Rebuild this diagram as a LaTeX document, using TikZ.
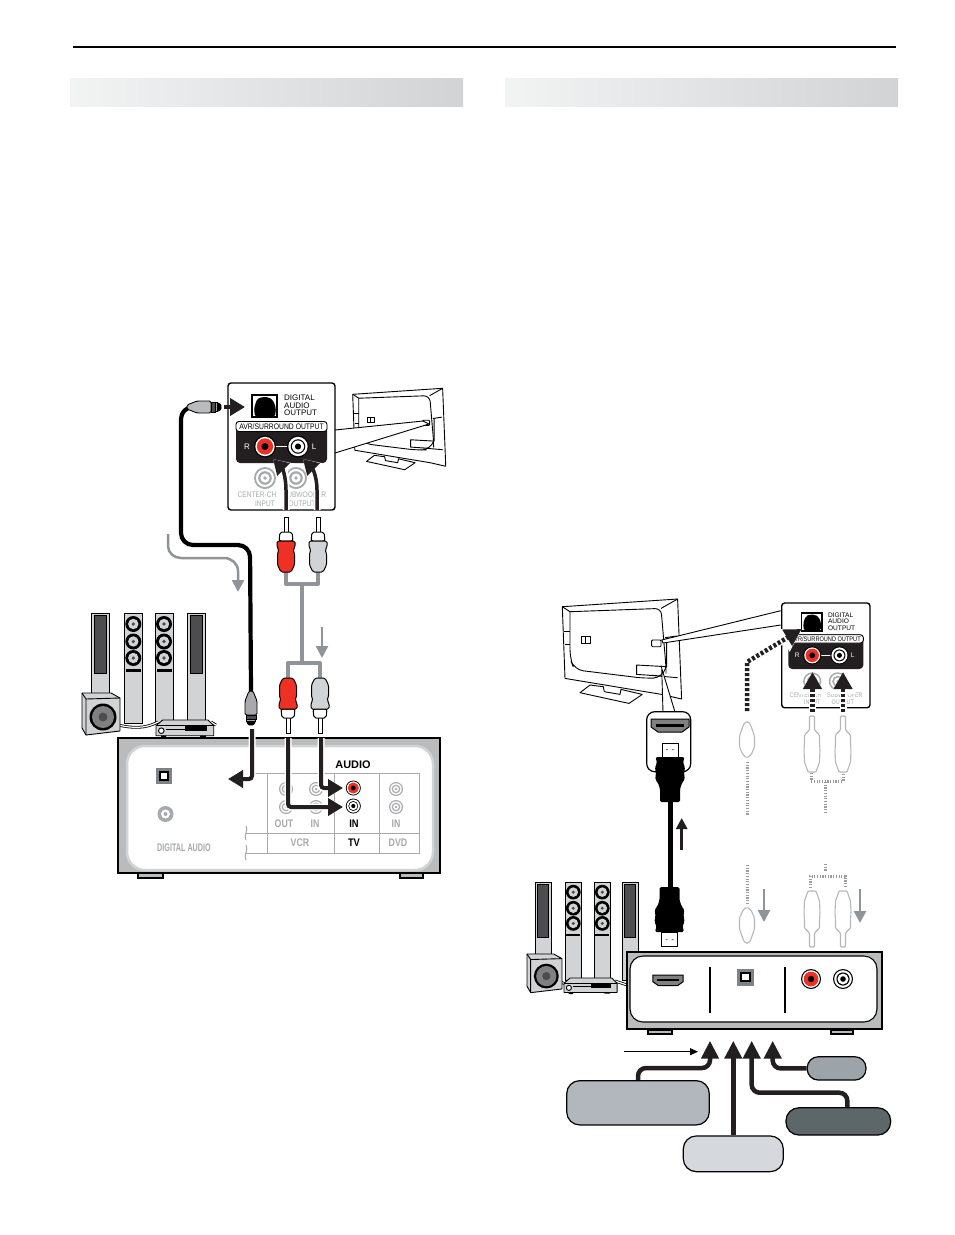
\documentclass[tikz,border=0pt]{standalone}
\usepackage{fontspec}
\setmainfont{Liberation Sans}
\usetikzlibrary{arrows.meta}
\definecolor{barleft}{HTML}{F2F3F3}
\definecolor{barright}{HTML}{D2D3D5}
\definecolor{cabinet}{HTML}{D1D3D4}
\definecolor{darkgrey}{HTML}{4D4D4F}
\definecolor{boxgrey}{HTML}{B9BBBD}
\definecolor{cablegrey}{HTML}{8F9499}
\definecolor{labelgrey}{HTML}{A7A9AC}
\definecolor{plugred}{HTML}{EE3124}
\definecolor{panelblack}{HTML}{231F20}
\definecolor{ghostgrey}{HTML}{B5B7B9}
\definecolor{pillblue}{HTML}{B2B6BD}
\definecolor{pilllight}{HTML}{D5D8DC}
\definecolor{pilldark}{HTML}{5D6769}
\definecolor{pillgrey}{HTML}{9DA4A9}
\definecolor{squaregrey}{HTML}{7C8488}
\tikzset{minimum size=0pt,inner sep=0pt,
  headbar/.style={left color=barleft,right color=barright,draw=none},
  thickarrow/.style={line width=3.5pt,panelblack,-{Triangle[length=15pt,width=17pt]}},
  haloarrow/.style={thickarrow,preaction={draw=white,line width=7pt,-{Triangle[length=19pt,width=23pt]}}},
  dotarrow/.style={line width=4.5pt,panelblack,dash pattern=on 3pt off 2pt,-{Triangle[length=17pt,width=18pt]},
    preaction={draw=white,solid,line width=7pt,-{Triangle[length=22pt,width=25pt]}}},
  greyarrow/.style={line width=2.5pt,cablegrey,-{Triangle[length=12pt,width=12pt]}},
  greycable/.style={line width=4pt,cablegrey,line join=round},
  blackcable/.style={line width=4.2pt,black,rounded corners=12pt},
  tickcable/.style={line width=3pt,ghostgrey!85!black,dash pattern=on 1.2pt off 1.5pt},
  wire/.style={line width=.8pt,double=white,double distance=1.2pt},
  pill/.style={draw=black,line width=1.2pt,rounded corners=13pt},
  pillarrow/.style={line width=4.5pt,panelblack,rounded corners=8pt,-{Triangle[length=18pt,width=17pt]}},
  graytext/.style={text=labelgrey,font=\fontsize{11}{11}\bfseries\selectfont,xscale=.8},
  blacktext/.style={text=black,font=\fontsize{11}{11}\bfseries\selectfont,xscale=.85},
  paneltext/.style={transform shape,font=\fontsize{8}{7.6}\selectfont,align=center}}
\newcommand{\redjack}[3]{\fill[black] (#1,#2) circle[radius=#3];
  \fill[white] (#1,#2) circle[radius=.88*#3];
  \fill[plugred] (#1,#2) circle[radius=.74*#3];
  \fill[black] (#1,#2) circle[radius=.32*#3];}
\newcommand{\whitejack}[3]{\fill[black] (#1,#2) circle[radius=#3];
  \fill[white] (#1,#2) circle[radius=.88*#3];
  \fill[black] (#1,#2) circle[radius=.66*#3];
  \fill[white] (#1,#2) circle[radius=.55*#3];
  \fill[black] (#1,#2) circle[radius=.28*#3];}
\newcommand{\greyjack}[3]{\fill[labelgrey] (#1,#2) circle[radius=#3];
  \fill[white] (#1,#2) circle[radius=.82*#3];
  \fill[labelgrey] (#1,#2) circle[radius=.62*#3];
  \fill[white] (#1,#2) circle[radius=.42*#3];
  \fill[labelgrey] (#1,#2) circle[radius=.18*#3];}
\newcommand{\digitalsquare}[3]{\fill[squaregrey] (#1-#3,#2-#3) rectangle (#1+#3,#2+#3);
  \fill[black] (#1-.62*#3,#2-.62*#3) rectangle (#1+.62*#3,#2+.62*#3);
  \fill[white] (#1-.36*#3,#2-.36*#3) rectangle (#1+.36*#3,#2+.36*#3);}
\newcommand{\rcaplug}[4]{\begin{scope}[shift={(#1,#2)},yscale=#3,draw=black,line width=1pt]
  \filldraw[fill=white] (-2,0) rectangle (2,16);
  \filldraw[fill=white,rounded corners=2] (-6,15) -- (6,15) -- (7,24) -- (-7,24) -- cycle;
  \filldraw[fill=#4,rounded corners=1.5] (-9,24) -- (9,24) -- (9,30) -- (7,33) -- (8.5,36) -- (8.5,48) -- (5,55) -- (-5,55) -- (-8.5,48) -- (-8.5,36) -- (-7,33) -- (-9,30) -- cycle;
  \end{scope}}
\newcommand{\ghostplug}[3]{\begin{scope}[shift={(#1,#2)},yscale=#3,draw=ghostgrey,line width=1.1pt]
  \filldraw[fill=white,rounded corners=1] (-2.5,0) -- (2.5,0) -- (2.5,14) -- (7.5,19) -- (7.5,27) -- (8,34) -- (7.5,46) -- (4,56) -- (-4,56) -- (-7.5,46) -- (-8,34) -- (-7.5,27) -- (-7.5,19) -- (-2.5,14) -- cycle;
  \end{scope}}
\newcommand{\ghostcoax}[3]{\begin{scope}[shift={(#1,#2)},yscale=#3,draw=ghostgrey,line width=1.1pt]
  \filldraw[fill=white,rounded corners=1.5] (-2,0) -- (2,0) -- (4,4) -- (7.5,14) -- (7.5,25) -- (4,33) -- (0,36) -- (-4,33) -- (-7.5,25) -- (-7.5,14) -- (-4,4) -- cycle;
  \end{scope}}
\newcommand{\coaxplug}[4]{\begin{scope}[shift={(#1,#2)},rotate=#3,line width=.9pt]
  \filldraw[fill=#4,rounded corners=1.5] (-2,0) -- (2,0) -- (6,10) -- (6,24) -- (-6,24) -- (-6,10) -- cycle;
  \filldraw[fill=darkgrey] (-5,24) rectangle (5,28);
  \filldraw[fill=white] (-4.5,28) rectangle (4.5,30);
  \filldraw[fill=black,rounded corners=1] (-4.5,30) -- (4.5,30) -- (2.5,34) -- (-2.5,34) -- cycle;
  \end{scope}}
\newcommand{\hdmiplug}[3]{\begin{scope}[shift={(#1,#2)},yscale=#3]
  \filldraw[draw=black,fill=white,line width=1pt] (-8,0) rectangle (8,14);
  \fill[gray] (-4,6) rectangle (-2,7) (2,6) rectangle (4,7);
  \fill[black,rounded corners=1.5] (-14.5,14) -- (14.5,14) -- (13,20) -- (15,24) -- (14,32) -- (15,36) -- (12,40) -- (10,46) -- (10,59) -- (-10,59) -- (-10,46) -- (-12,40) -- (-15,36) -- (-14,32) -- (-15,24) -- (-13,20) -- cycle;
  \end{scope}}
\newcommand{\hdmiport}[4]{\begin{scope}[shift={(#1,#2)},scale=#3]
  \filldraw[draw=black,fill=#4,line width=1pt] (-19,-6) -- (19,-6) -- (19,2) -- (12,7) -- (-12,7) -- (-19,2) -- cycle;
  \fill[black] (-14,-1) rectangle (14,1.5);
  \end{scope}}
\newcommand{\panelspk}[4]{\begin{scope}[shift={(#1,#2)},scale=#3,line width=.9pt]
  \filldraw[fill=cabinet] (0,0) rectangle (18,#4);
  \filldraw[fill=darkgrey] (3,2.5) rectangle (15,60);
  \end{scope}}
\newcommand{\discspk}[4]{\begin{scope}[shift={(#1,#2)},scale=#3,line width=.9pt]
  \filldraw[fill=cabinet] (0,0) rectangle (18,#4);
  \foreach \dy in {11,28.5,45}{
    \fill[black] (9,\dy) circle[radius=8];
    \fill[cabinet] (9,\dy) circle[radius=5.2];
    \fill[darkgrey] (9,\dy) circle[radius=1.8];}
  \fill[black] (1.5,56) rectangle (16.5,59);
  \end{scope}}
\newcommand{\subwoofer}[3]{\begin{scope}[shift={(#1,#2)},scale=#3,line width=.9pt]
  \filldraw[fill=cabinet,line join=round] (0,0) -- (29,0) -- (38,5) -- (38,38) -- (4,42) -- (0,35) -- cycle;
  \draw (0,0) -- (4,6) -- (38,5) (4,6) -- (4,42);
  \fill[black] (21,24) circle[radius=13.5];
  \fill[gray] (21,24) circle[radius=11];
  \fill[darkgrey] (21,24) circle[radius=4.5];
  \end{scope}}
\newcommand{\receiver}[3]{\begin{scope}[shift={(#1,#2)},scale=#3,line width=.9pt]
  \filldraw[fill=cabinet,line join=round] (6.7,0) -- (52,0) -- (57.7,5.7) -- (57.7,15.7) -- (0,15.7) -- (0,5.7) -- cycle;
  \draw (0,5.7) -- (57.7,5.7);
  \fill[black] (29.3,6) rectangle (51,10.5);
  \draw (9.5,9.5) -- (29.3,9.5);
  \filldraw[fill=white] (5.3,10.7) circle[radius=2.8];
  \fill[black] (5,15.7) rectangle (10,17.5) (44,15.7) rectangle (50,17);
  \end{scope}}
\newcommand{\backtv}[3]{\begin{scope}[shift={(#1,#2)},scale=#3,line width=.9pt,line join=round]
  \filldraw[fill=white] (27.7,78.3) -- (17.7,86) -- (66.7,96.7) -- (80,87.7) -- (58.7,82.7) -- (57.7,87.7) -- (42,85) -- (41,80) -- cycle;
  \filldraw[fill=white] (0,0) -- (115.3,-7.7) -- (119.3,92.3) -- (99.3,87.7) -- (2.7,71.7) -- cycle;
  \draw[rounded corners=6] (7.7,5) -- (98.7,1.7) -- (103.7,60) -- (103.7,67);
  \draw[rounded corners=9] (7.7,5) -- (7.7,51.7) -- (12,63) -- (82.7,71.7) -- (100,71) -- (103.7,60);
  \draw (0,0) -- (7.7,5) (115.3,-7.7) -- (98.7,1.7);
  \draw (102.7,31) -- (114.3,29.3) (104.3,31) -- (104.3,60) -- (74.3,58.3) -- (74.3,67.7) -- (99.3,69.3) (86,68.5) -- (115.3,71);
  \draw (2,25) -- (7.7,25) (2.5,38) -- (7.7,38);
  \filldraw[fill=white,rounded corners=1] (89.3,33.3) rectangle (98.7,40);
  \draw (18.7,30) rectangle (27.7,36.7) (23.2,30) -- (23.2,36.7);
  \end{scope}}
\newcommand{\avrpanel}[4]{\begin{scope}[shift={(#2,#3)},scale=#4]
  \filldraw[draw=black,fill=white,line width=1.4pt,rounded corners=3] (0,0) rectangle (107,127);
  \filldraw[draw=black,fill=white,line width=1.3pt] (24,12) rectangle (49,34);
  \fill[black,rounded corners=2] (27,34) -- (26,25) -- (29,16) -- (34,14) -- (40,14) -- (45,17) -- (48,25) -- (47,34) -- cycle;
  \node[paneltext,anchor=west,align=left] (#1digital) at (56,22.5) {DIGITAL\\AUDIO\\OUTPUT};
  \fill[panelblack,rounded corners=4] (8,38) rectangle (99,80);
  \filldraw[draw=black,fill=white,line width=.9pt,rounded corners=3] (8,38.5) rectangle (99,48.5);
  \node[paneltext,xscale=.85] (#1header) at (53.5,43.5) {AVR/SURROUND OUTPUT};
  \draw[white,line width=.8pt] (37,63.5) -- (70,63.5);
  \redjack{37}{63.5}{11}
  \whitejack{70}{63.5}{11}
  \node[paneltext,text=white] (#1right) at (19,63.5) {R};
  \node[paneltext,text=white] (#1left) at (86,63.5) {L};
  \greyjack{37}{95}{11}
  \greyjack{68}{95}{11}
  \node[paneltext,text=labelgrey,xscale=.82] (#1center) at (29,112) {CENTER-CH};
  \node[paneltext,text=labelgrey,xscale=.82] (#1input) at (37,120.5) {INPUT};
  \node[paneltext,text=labelgrey,xscale=.82] (#1sub) at (76.5,112) {SUBWOOFER};
  \node[paneltext,text=labelgrey,xscale=.82] (#1output) at (74,120.5) {OUTPUT};
  \end{scope}}
\begin{document}
\begin{tikzpicture}[x=1pt,y=-1pt]
  \useasboundingbox (0,0) rectangle (954,1235);
  \fill[white] (0,0) rectangle (954,1235);
  \draw[black,line width=2pt] (73,47) -- (896,47);
  \fill[headbar] (70,78) rectangle (463,106);
  \fill[headbar] (505,78) rectangle (898,106);
  \backtv{352.7}{394.3}{.78}
  \filldraw[fill=white,line width=.9pt] (335,430) -- (423,421) -- (429,424) -- (335,453);
  \avrpanel{upper}{228}{383}{1}
  \draw[haloarrow] (286,510) -- (286,490) to[out=90,in=-45] (273,459);
  \draw[haloarrow] (317,510) -- (317,490) to[out=90,in=-45] (303,459);
  \draw[greycable] (286,570) |- (318,584) -- (318,570);
  \draw[greycable] (302,584) -- (302,663);
  \draw[greycable] (288,680) |- (320,663) -- (320,680);
  \rcaplug{286}{517}{1}{plugred}
  \rcaplug{318}{517}{1}{cabinet}
  \rcaplug{288}{733}{-1}{plugred}
  \rcaplug{320}{733}{-1}{cabinet}
  \draw[greyarrow] (168,534) -- (168,546) to[out=-90,in=180] (181,558) -- (224,558) to[out=0,in=90] (238,571) -- (238,592);
  \draw[greyarrow] (322,627) -- (322,658);
  \coordinate (lowerplug) at (251,692);
  \draw[blackcable] (190,407) -- (181,407) -- (181,545) -- (250,545) -- (lowerplug);
  \coaxplug{187}{407}{90}{boxgrey}
  \coaxplug{251}{691}{0}{labelgrey}
  \draw[thickarrow,line width=4pt] (224,407) -- (245,407);
  \discspk{124.3}{613}{1}{110}
  \discspk{155}{613}{1}{110}
  \panelspk{91}{613}{1}{100}
  \panelspk{187}{613}{1}{109}
  \draw[wire] (118,725) .. controls (140,730) and (150,726) .. (158,722);
  \draw[wire] (211,722) -- (216,725);
  \subwoofer{82}{693}{1}
  \receiver{156}{720}{1}
  \filldraw[draw=black,fill=boxgrey,line width=1.5pt] (118,738) rectangle (440,873);
  \filldraw[draw=black,fill=boxgrey,line width=1.2pt] (138,873) rectangle (163,878);
  \filldraw[draw=black,fill=boxgrey,line width=1.2pt] (400,873) rectangle (423,878);
  \filldraw[draw=cabinet,fill=white,line width=2.5pt,rounded corners=18] (127,746) rectangle (433,870);
  \digitalsquare{164}{776}{8}
  \fill[labelgrey] (165.5,814) circle[radius=8];
  \fill[white] (165.5,814) circle[radius=4.5];
  \fill[labelgrey] (165.5,814) circle[radius=2];
  \node[graytext,xscale=.82] (digitalaudio) at (184,847.5) {DIGITAL AUDIO};
  \draw[labelgrey,line width=1pt] (255,773) -- (419,773) -- (419,853) -- (246,853) (246,833) -- (419,833) (267.3,773) -- (267.3,853) (334,773) -- (334,853) (379,773) -- (379,853);
  \draw[labelgrey,line width=1pt] (246,826) .. controls (249,830) and (243,835) .. (246,840) (246,845) .. controls (249,850) and (243,855) .. (246,860);
  \node[blacktext,xscale=1.17] (audio) at (353,765) {AUDIO};
  \greyjack{286}{789}{7} \greyjack{316}{789}{7}
  \greyjack{286}{807}{7} \greyjack{316}{807}{7}
  \greyjack{396}{789}{7} \greyjack{396}{807}{7}
  \redjack{353.3}{788}{7.5}
  \whitejack{353.3}{806}{7.5}
  \node[graytext] (vcrout) at (284,824) {OUT};
  \node[graytext] (vcrin) at (315,824) {IN};
  \node[blacktext] (tvin) at (354,824) {IN};
  \node[graytext] (dvdin) at (396,824) {IN};
  \node[graytext] (vcrlabel) at (300,843) {VCR};
  \node[blacktext] (tvlabel) at (354,843) {TV};
  \node[graytext] (dvdlabel) at (398,843) {DVD};
  \draw[haloarrow,line width=4pt,rounded corners=3pt] (321,738) |- (343,788);
  \draw[haloarrow,line width=4pt,rounded corners=3pt] (288,738) |- (343,807);
  \draw[haloarrow,line width=4pt,rounded corners=3pt] (252,729) |- (228,779);
  \backtv{562.3}{606.7}{1}
  \filldraw[fill=white,line width=.9pt] (780.7,610.7) -- (661.7,640) -- (663,643) -- (780.7,625);
  \filldraw[fill=white,line width=.9pt] (661.7,668.3) -- (663,712) -- (675,712) -- cycle;
  \avrpanel{right}{781.7}{603}{.825}
  \draw[dotarrow] (747,711) -- (747,662) -- (801.7,629);
  \draw[dotarrow] (812.5,712) -- (812.5,672);
  \draw[dotarrow] (843,712) -- (843,672);
  \ghostcoax{747}{722}{1}
  \ghostplug{812}{716}{1}
  \ghostplug{843}{716}{1}
  \draw[tickcable] (747,762) -- (747,816);
  \draw[tickcable] (811,773) -- (811,781) -- (843,781) -- (843,773);
  \draw[tickcable] (825,782) -- (825,814);
  \filldraw[draw=black,fill=white,line width=1.2pt,rounded corners=8] (646.7,711.7) rectangle (690.7,771.7);
  \hdmiport{670}{725}{1}{gray}
  \draw[black,line width=5pt] (670,795) -- (670,892);
  \hdmiplug{670}{743}{1}
  \hdmiplug{669.5}{946}{-1}
  \draw[thickarrow,line width=2.6pt,-{Triangle[length=11pt,width=11pt]}] (681.7,850) -- (681.7,818);
  \draw[tickcable] (747,865) -- (747,905);
  \draw[tickcable] (810,888) -- (810,876) -- (845,876) -- (845,888);
  \draw[tickcable] (825.7,864) -- (825.7,871);
  \ghostcoax{747}{943}{-1}
  \ghostplug{812}{947}{-1}
  \ghostplug{843}{947}{-1}
  \draw[greyarrow] (764,889) -- (764,922);
  \draw[greyarrow] (860,889) -- (860,923);
  \panelspk{535}{882}{.92}{95}
  \discspk{565}{882}{.92}{107}
  \discspk{594}{882}{.92}{107}
  \panelspk{622}{882}{.92}{107}
  \draw[wire] (560,982) -- (566,984);
  \draw[wire] (615,981) -- (627,985);
  \subwoofer{527}{954}{.92}
  \receiver{564}{978}{.92}
  \filldraw[draw=black,fill=boxgrey,line width=1.8pt] (626.7,951.7) rectangle (881.7,1029.3);
  \filldraw[draw=black,fill=boxgrey,line width=1.2pt] (648,1030) rectangle (672,1034);
  \filldraw[draw=black,fill=boxgrey,line width=1.2pt] (831,1030) rectangle (853,1034);
  \filldraw[draw=black,fill=white,line width=1.1pt,rounded corners=13] (630,956) rectangle (877,1022);
  \draw[black,line width=1.6pt] (710,967) -- (710,1013) (785,967) -- (785,1013);
  \hdmiport{668}{980}{.8}{gray}
  \digitalsquare{745.5}{977}{8.5}
  \redjack{811}{979}{10}
  \whitejack{843}{979}{10}
  \node[pill,fill=pillblue,minimum width=142.6pt,minimum height=44.3pt] (hdmipill) at (638,1102.8) {};
  \node[pill,fill=pilllight,minimum width=100pt,minimum height=35.7pt] (digitalpill) at (733.3,1153.8) {};
  \node[pill,fill=pilldark,minimum width=104.7pt,minimum height=27.3pt] (audiopill) at (838.3,1121.4) {};
  \node[pill,fill=pillgrey,minimum width=58.7pt,minimum height=23.3pt,rounded corners=11pt] (inputpill) at (836.6,1068.4) {};
  \coordinate (hdmitip) at (710,1040.7);
  \coordinate (digitaltip) at (733.3,1040.7);
  \coordinate (audiotip) at (751.7,1040.7);
  \coordinate (inputtip) at (772.7,1040.7);
  \coordinate (thinstart) at (624,1051.7);
  \coordinate (thinend) at (698,1051.7);
  \draw[pillarrow] (hdmipill.north) |- (710,1068) -- (hdmitip);
  \draw[pillarrow] (digitalpill.north) -- (digitaltip);
  \draw[pillarrow] ([xshift=9pt]audiopill.north) |- (751.7,1092.7) -- (audiotip);
  \draw[pillarrow] (inputpill.west) -| (inputtip);
  \draw[black,line width=.8pt,-{Triangle[length=8pt,width=7pt]}] (thinstart) -- (thinend);
\end{tikzpicture}
\end{document}
